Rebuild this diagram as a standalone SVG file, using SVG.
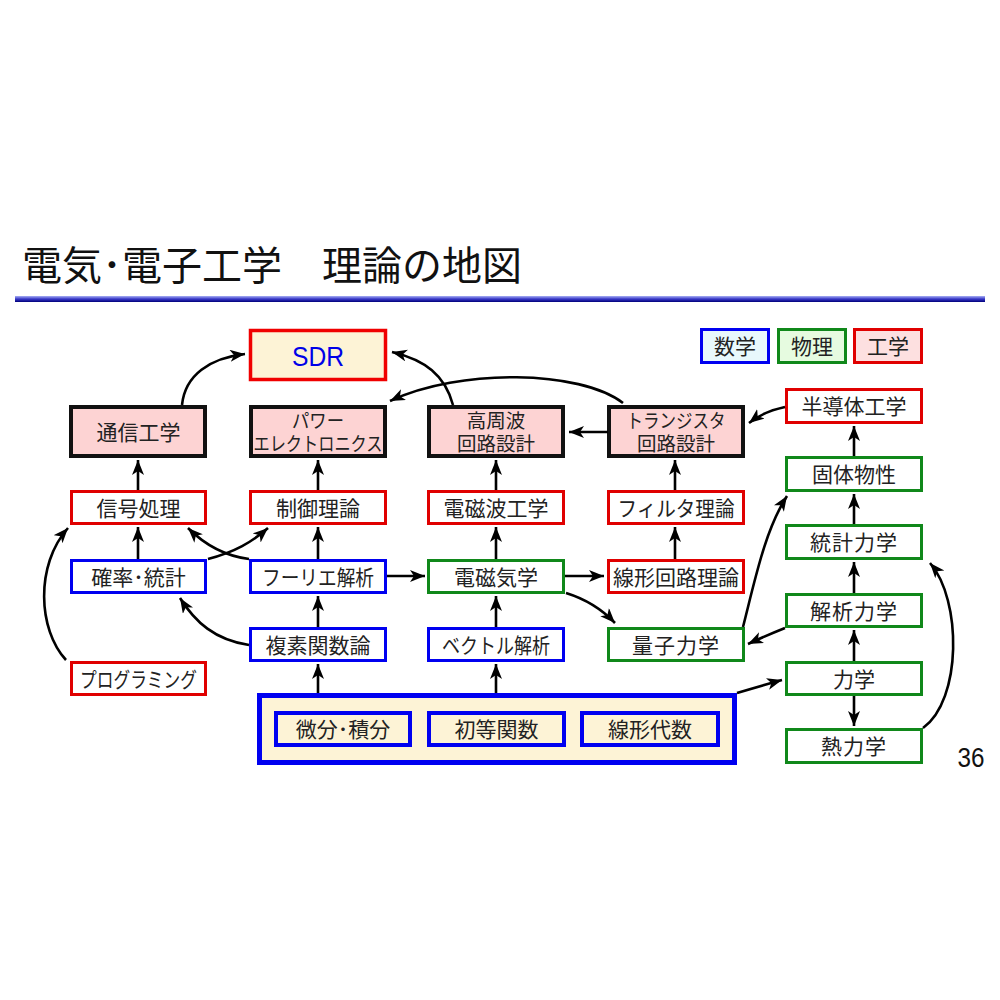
<svg xmlns="http://www.w3.org/2000/svg" width="1000" height="1000" viewBox="0 0 1000 1000">
<style>
.t{font-family:"Noto Sans CJK JP","Noto Sans CJK SC",sans-serif;font-size:21px;fill:#222;text-anchor:middle;}
.t2{font-family:"Noto Sans CJK JP","Noto Sans CJK SC",sans-serif;font-size:19.5px;fill:#222;text-anchor:middle;}
.red{fill:#fff;stroke:#e00000;stroke-width:3}
.blue{fill:#fff;stroke:#0000f0;stroke-width:3}
.green{fill:#fff;stroke:#10881a;stroke-width:3}
.blk{fill:#fdd3d3;stroke:#111;stroke-width:4}
.cn path{fill:none;stroke:#000;stroke-width:2.6;marker-end:url(#ah)}
</style>
<defs>
<marker id="ah" markerUnits="userSpaceOnUse" markerWidth="18" markerHeight="14" refX="15" refY="6" orient="auto">
<path d="M0,0 L15,6 L0,12 L4,6 Z" fill="#000"/>
</marker>
<linearGradient id="bar" x1="0" y1="0" x2="0" y2="1">
<stop offset="0" stop-color="#a8b0f4"/>
<stop offset="0.5" stop-color="#3838c8"/>
<stop offset="1" stop-color="#00007a"/>
</linearGradient>
</defs>
<rect width="1000" height="1000" fill="#fff"/>
<text x="22" y="280" style="font-family:'Noto Sans CJK JP',sans-serif;font-size:40px;fill:#111">電気･電子工学　理論の地図</text>
<rect x="15" y="296" width="970" height="6" fill="url(#bar)"/>

<g id="legend-math"><rect x="701.5" y="329.5" width="67" height="33" fill="#e8f8fc" stroke="#0000f0" stroke-width="3"/><text class="t" x="735" y="354">数学</text></g>
<g id="legend-phys"><rect x="778.5" y="329.5" width="67" height="33" fill="#e6fbe0" stroke="#10881a" stroke-width="3"/><text class="t" x="812" y="354">物理</text></g>
<g id="legend-eng"><rect x="854.5" y="329.5" width="67" height="33" fill="#fde0e0" stroke="#e00000" stroke-width="3"/><text class="t" x="888" y="354">工学</text></g>

<g id="sdr"><rect x="250.5" y="330.5" width="135" height="49" fill="#fdf3d6" stroke="#f00000" stroke-width="3.5"/><text x="318" y="366" textLength="52" lengthAdjust="spacingAndGlyphs" style="font-family:'Liberation Sans',sans-serif;font-size:27px;fill:#0000e8;text-anchor:middle">SDR</text></g>

<g id="tsushin"><rect class="blk" x="71" y="407" width="134" height="49"/><text class="t" x="138.5" y="440">通信工学</text></g>
<g id="power"><rect class="blk" x="251" y="407" width="134" height="49"/><text class="t2"><tspan x="318" y="428" textLength="52" lengthAdjust="spacingAndGlyphs">パワー</tspan><tspan x="318" y="451" textLength="129" lengthAdjust="spacingAndGlyphs">エレクトロニクス</tspan></text></g>
<g id="koshuha"><rect class="blk" x="429" y="407" width="134" height="49"/><text class="t2"><tspan x="496" y="428">高周波</tspan><tspan x="496" y="451">回路設計</tspan></text></g>
<g id="transistor"><rect class="blk" x="609" y="407" width="134" height="49"/><text class="t2"><tspan x="676" y="428" textLength="99" lengthAdjust="spacingAndGlyphs">トランジスタ</tspan><tspan x="676" y="451">回路設計</tspan></text></g>

<g id="shingo"><rect class="red" x="71.5" y="491.5" width="134" height="32"/><text class="t" x="138.5" y="516">信号処理</text></g>
<g id="seigyo"><rect class="red" x="250.5" y="491.5" width="135" height="32"/><text class="t" x="318" y="516">制御理論</text></g>
<g id="denjiha"><rect class="red" x="428.5" y="491.5" width="135" height="32"/><text class="t" x="496" y="516">電磁波工学</text></g>
<g id="filter"><rect class="red" x="608.5" y="491.5" width="135" height="32"/><text class="t" x="676" y="516" textLength="117" lengthAdjust="spacingAndGlyphs">フィルタ理論</text></g>

<g id="kakuritsu"><rect class="blue" x="71.5" y="560.5" width="134" height="32"/><text class="t" x="138.5" y="585">確率･統計</text></g>
<g id="fourier"><rect class="blue" x="250.5" y="560.5" width="135" height="32"/><text class="t" x="318" y="585" textLength="112" lengthAdjust="spacingAndGlyphs">フーリエ解析</text></g>
<g id="denjiki"><rect class="green" x="428.5" y="560.5" width="135" height="32"/><text class="t" x="496" y="585">電磁気学</text></g>
<g id="senkei-kairo"><rect class="red" x="608.5" y="560.5" width="135" height="32"/><text class="t" x="676" y="585">線形回路理論</text></g>

<g id="fukuso"><rect class="blue" x="250.5" y="628.5" width="135" height="32"/><text class="t" x="318" y="653">複素関数論</text></g>
<g id="vector"><rect class="blue" x="428.5" y="628.5" width="135" height="32"/><text class="t" x="496" y="653" textLength="108" lengthAdjust="spacingAndGlyphs">ベクトル解析</text></g>
<g id="ryoshi"><rect class="green" x="608.5" y="628.5" width="135" height="32"/><text class="t" x="676" y="653" letter-spacing="1">量子力学</text></g>
<g id="programming"><rect class="red" x="71.5" y="662.5" width="134" height="32"/><text class="t" x="138.5" y="687" textLength="117" lengthAdjust="spacingAndGlyphs">プログラミング</text></g>

<g id="handotai"><rect class="red" x="786.5" y="389.5" width="135" height="33"/><text class="t" x="854" y="414">半導体工学</text></g>
<g id="kotai"><rect class="green" x="786.5" y="457.5" width="135" height="33"/><text class="t" x="854" y="482">固体物性</text></g>
<g id="tokei"><rect class="green" x="786.5" y="525.5" width="135" height="33"/><text class="t" x="854" y="550" letter-spacing="1">統計力学</text></g>
<g id="kaiseki"><rect class="green" x="786.5" y="594.5" width="135" height="32"/><text class="t" x="854" y="619" letter-spacing="1">解析力学</text></g>
<g id="rikigaku"><rect class="green" x="786.5" y="662.5" width="135" height="32"/><text class="t" x="854" y="687">力学</text></g>
<g id="netsu"><rect class="green" x="786.5" y="729.5" width="135" height="33"/><text class="t" x="854" y="754" letter-spacing="1">熱力学</text></g>

<g id="kiso">
<rect x="259.5" y="695.5" width="475" height="67" fill="#fdf3d6" stroke="#0000f0" stroke-width="5"/>
<rect x="276" y="713" width="134" height="32" fill="#fdf3d6" stroke="#0000f0" stroke-width="4"/>
<text class="t" x="343" y="737">微分･積分</text>
<rect x="429" y="713" width="135" height="32" fill="#fdf3d6" stroke="#0000f0" stroke-width="4"/>
<text class="t" x="496.5" y="737">初等関数</text>
<rect x="582" y="713" width="136" height="32" fill="#fdf3d6" stroke="#0000f0" stroke-width="4"/>
<text class="t" x="650" y="737">線形代数</text>
</g>

<text x="971" y="767" textLength="27" lengthAdjust="spacingAndGlyphs" style="font-family:'Liberation Sans',sans-serif;font-size:28px;fill:#111;text-anchor:middle">36</text>

<g class="cn" id="connectors">
<path d="M182,405 C185,375 210,358 245,354"/>
<path d="M453,405 C445,375 425,360 392,352"/>
<path d="M623,403 C580,370 460,368 390,401"/>
<path d="M608,432 L569,432"/>
<path d="M785,407 C770,410 758,416 749,423"/>
<path d="M854,456 L854,426"/>
<path d="M854,524 L854,494"/>
<path d="M854,593 L854,562"/>
<path d="M854,661 L854,630"/>
<path d="M854,696 L854,726"/>
<path d="M923,728 C962,700 962,600 930,563"/>
<path d="M743,627 C755,580 765,530 787,496"/>
<path d="M785,628 Q765,636 748,644"/>
<path d="M737,693 Q760,686 782,680"/>
<path d="M565,576 L604,576"/>
<path d="M566,593 Q595,602 615,623"/>
<path d="M675,559 L675,527"/>
<path d="M675,490 L675,460"/>
<path d="M496,559 L496,527"/>
<path d="M496,490 L496,460"/>
<path d="M496,627 L496,596"/>
<path d="M496,693 L496,664"/>
<path d="M318,693 L318,664"/>
<path d="M318,627 L318,596"/>
<path d="M318,559 L318,527"/>
<path d="M318,490 L318,460"/>
<path d="M387,576 L425,576"/>
<path d="M138,559 L138,527"/>
<path d="M138,490 L138,460"/>
<path d="M249,559 C225,556 205,545 188,528"/>
<path d="M208,559 C235,552 252,542 268,528"/>
<path d="M249,645 C215,640 195,622 180,598"/>
<path d="M66,660 C38,630 35,565 68,528"/>
</g>
</svg>
